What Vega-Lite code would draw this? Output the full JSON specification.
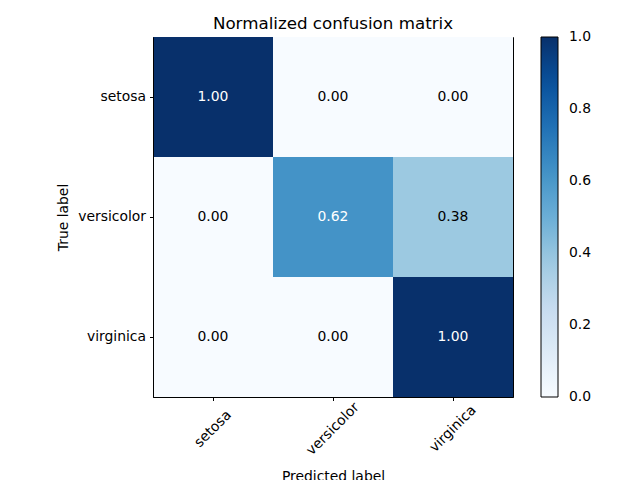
{
  "$schema": "https://vega.github.io/schema/vega-lite/v6.json",
  "width": 360,
  "height": 360,
  "autosize": {"type": "none"},
  "padding": {"left": 153, "top": 37, "right": 127, "bottom": 83},
  "background": "white",
  "title": {"text": "Normalized confusion matrix", "fontSize": 16.7, "fontWeight": "normal", "font": "DejaVu Sans", "color": "black", "baseline": "alphabetic", "offset": 9, "dy": 18},
  "data": {"values": [
    {"true": "setosa", "pred": "setosa", "value": 1.0},
    {"true": "setosa", "pred": "versicolor", "value": 0.0},
    {"true": "setosa", "pred": "virginica", "value": 0.0},
    {"true": "versicolor", "pred": "setosa", "value": 0.0},
    {"true": "versicolor", "pred": "versicolor", "value": 0.62},
    {"true": "versicolor", "pred": "virginica", "value": 0.38},
    {"true": "virginica", "pred": "setosa", "value": 0.0},
    {"true": "virginica", "pred": "versicolor", "value": 0.0},
    {"true": "virginica", "pred": "virginica", "value": 1.0}
  ]},
  "encoding": {
    "x": {"field": "pred", "type": "nominal", "sort": ["setosa", "versicolor", "virginica"],
      "scale": {"paddingInner": 0, "paddingOuter": 0},
      "axis": {"title": "Predicted label", "labelAngle": -45, "labelAlign": "center", "labelBaseline": "middle", "labelPadding": 28, "titleY": 83, "titleBaseline": "alphabetic"}},
    "y": {"field": "true", "type": "nominal", "sort": ["setosa", "versicolor", "virginica"],
      "scale": {"paddingInner": 0, "paddingOuter": 0},
      "axis": {"title": "True label", "titleX": -86, "titleBaseline": "alphabetic", "labelPadding": 4}}
  },
  "layer": [
    {"mark": {"type": "rect"},
     "encoding": {"color": {"field": "value", "type": "quantitative",
        "scale": {"domain": [0, 1], "range": ["#f7fbff", "#deebf7", "#c6dbef", "#9ecae1", "#6baed6", "#4292c6", "#2171b5", "#08519c", "#08306b"], "interpolate": "rgb"},
        "legend": {"title": null, "orient": "none", "legendX": 388, "legendY": 0, "direction": "vertical", "gradientLength": 360, "gradientThickness": 17, "gradientStrokeColor": "black", "gradientStrokeWidth": 1, "values": [0, 0.2, 0.4, 0.6, 0.8, 1.0], "format": ".1f", "labelFontSize": 13.9, "labelColor": "black", "labelOffset": 11, "labelFont": "DejaVu Sans", "labelOverlap": false,
          "encode": {"labels": {"update": {"baseline": {"value": "middle"}}}}}}}},
    {"mark": {"type": "text", "fontSize": 13.9, "font": "DejaVu Sans"},
     "encoding": {"text": {"field": "value", "type": "quantitative", "format": ".2f"},
       "color": {"condition": {"test": "datum.value > 0.5", "value": "white"}, "value": "black"}}}
  ],
  "config": {
    "font": "DejaVu Sans",
    "view": {"stroke": "black", "strokeWidth": 1},
    "axis": {"labelFontSize": 13.9, "titleFontSize": 13.9, "titleFontWeight": "normal", "labelColor": "black", "titleColor": "black", "domainColor": "black", "tickColor": "black", "tickSize": 3.5, "grid": false, "labelFont": "DejaVu Sans", "titleFont": "DejaVu Sans"}
  }
}
